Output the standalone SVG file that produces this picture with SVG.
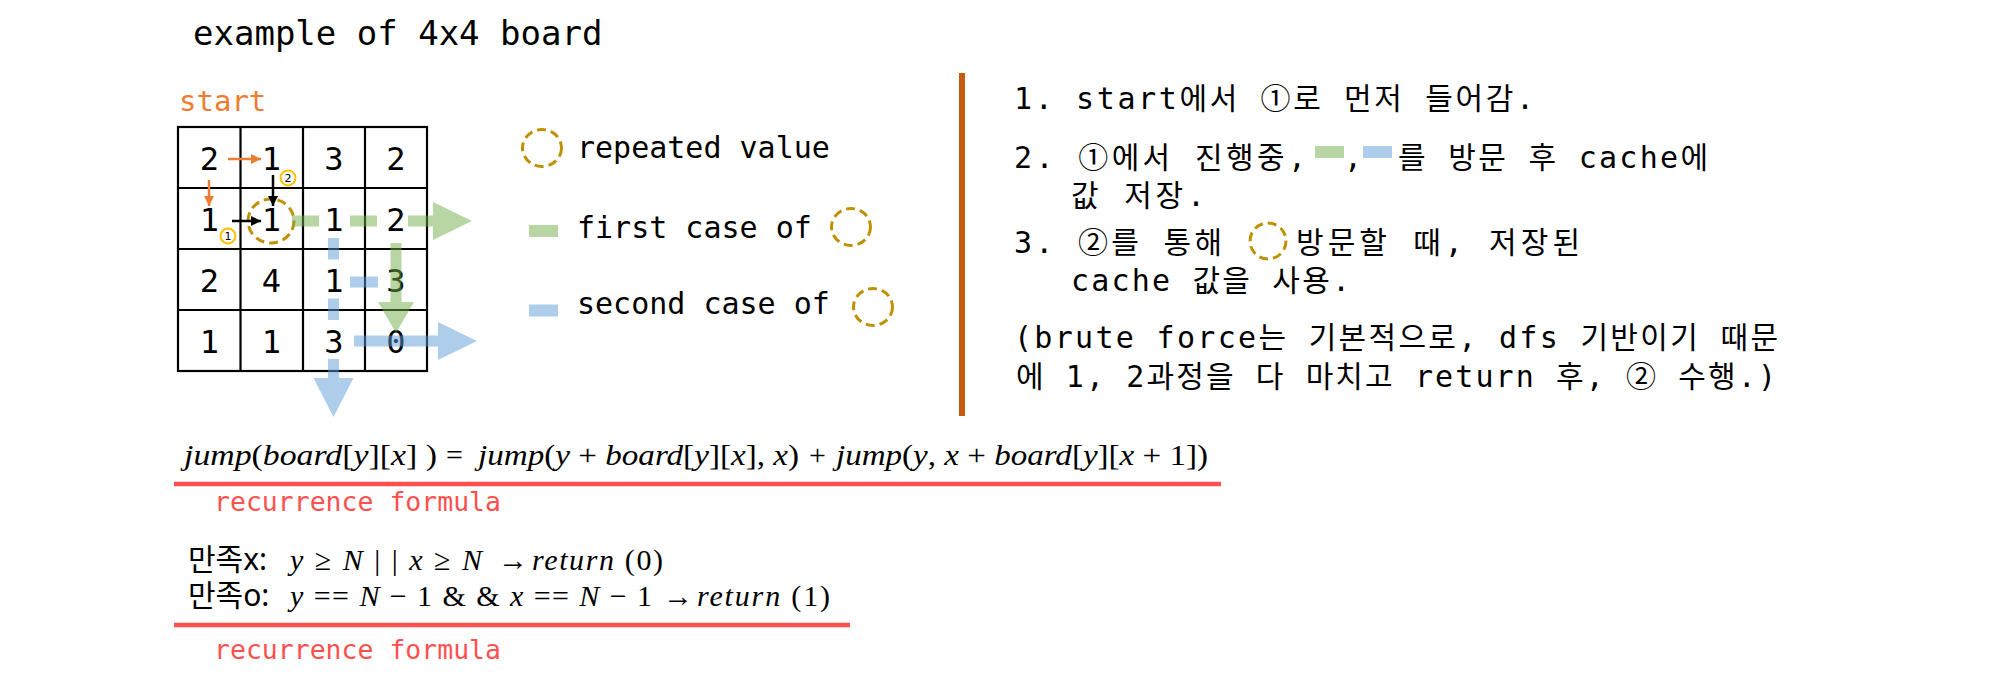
<svg xmlns="http://www.w3.org/2000/svg" width="2002" height="686" viewBox="0 0 2002 686">
<style>
.mono{font-family:"DejaVu Sans Mono","Noto Sans CJK KR",monospace;fill:#000}
.num{font-family:"DejaVu Sans Mono",monospace;font-size:32px;text-anchor:middle;fill:#000}
.leg{font-family:"DejaVu Sans Mono",monospace;font-size:30px;fill:#000}
.kr{font-family:"DejaVu Sans Mono","Noto Sans CJK KR",monospace;font-size:30px;fill:#000}
.math{font-family:"Liberation Serif","DejaVu Serif",serif;font-size:30px;fill:#000}
.i{font-style:italic}
.ks{font-family:"Noto Sans","Noto Sans CJK KR",sans-serif;font-size:30px;fill:#000}
.red{font-family:"DejaVu Sans Mono",monospace;font-size:26px;fill:#FF5050}
.dc{fill:none;stroke:#BF9000;stroke-width:3;stroke-dasharray:9 5}
.sc{fill:#fff;stroke:#FFC000;stroke-width:2}
.sn{font-family:"DejaVu Sans",sans-serif;font-size:11px;text-anchor:middle;fill:#000}
.grid{fill:none;stroke:#000;stroke-width:2.2}
.g{fill:#70AD47;fill-opacity:0.5}
.gs{stroke:#70AD47;stroke-opacity:0.5;stroke-width:11;fill:none}
.b{fill:#5B9BD5;fill-opacity:0.5}
.bs{stroke:#5B9BD5;stroke-opacity:0.5;stroke-width:11;fill:none}
.rl{stroke:#FF5050;stroke-width:4.5}
</style>
<defs>
<marker id="ho" viewBox="0 0 10 10" refX="10" refY="5" markerWidth="10" markerHeight="10" markerUnits="userSpaceOnUse" orient="auto"><path d="M0,0 L10,5 L0,10 z" fill="#ED7D31"/></marker>
<marker id="hb" viewBox="0 0 10 10" refX="10" refY="5" markerWidth="10" markerHeight="10" markerUnits="userSpaceOnUse" orient="auto"><path d="M0,0 L10,5 L0,10 z" fill="#000"/></marker>
</defs>
<rect width="2002" height="686" fill="#fff"/>

<g id="title"><text class="mono" x="193" y="45" font-size="34">example of 4x4 board</text></g>
<g id="start"><text class="mono" x="179" y="111" font-size="29" style="fill:#ED7D31">start</text></g>

<g id="board">
<rect class="grid" x="178" y="127" width="249" height="244"/>
<line class="grid" x1="240.5" y1="127" x2="240.5" y2="371"/>
<line class="grid" x1="303" y1="127" x2="303" y2="371"/>
<line class="grid" x1="365" y1="127" x2="365" y2="371"/>
<line class="grid" x1="178" y1="188" x2="427" y2="188"/>
<line class="grid" x1="178" y1="249" x2="427" y2="249"/>
<line class="grid" x1="178" y1="310" x2="427" y2="310"/>
<text class="num" x="209.5" y="170">2</text><text class="num" x="271.5" y="170">1</text><text class="num" x="334" y="170">3</text><text class="num" x="396" y="170">2</text>
<text class="num" x="209.5" y="231">1</text><text class="num" x="271.5" y="231">1</text><text class="num" x="334" y="231">1</text><text class="num" x="396" y="231">2</text>
<text class="num" x="209.5" y="292">2</text><text class="num" x="271.5" y="292">4</text><text class="num" x="334" y="292">1</text><text class="num" x="396" y="292">3</text>
<text class="num" x="209.5" y="353">1</text><text class="num" x="271.5" y="353">1</text><text class="num" x="334" y="353">3</text><text class="num" x="396" y="353">0</text>
</g>

<g id="repeated-cell"><ellipse class="dc" cx="271" cy="221" rx="23" ry="22"/></g>
<g id="mark1"><circle class="sc" cx="228" cy="236" r="7.5"/><text class="sn" x="228" y="240">1</text></g>
<g id="mark2"><circle class="sc" cx="288" cy="178" r="7.5"/><text class="sn" x="288" y="182">2</text></g>

<g id="connectors">
<line x1="228" y1="159" x2="261" y2="159" stroke="#ED7D31" stroke-width="2.5" marker-end="url(#ho)"/>
<line x1="209" y1="180" x2="209" y2="206" stroke="#ED7D31" stroke-width="2.5" marker-end="url(#ho)"/>
<line x1="273" y1="175" x2="273" y2="206" stroke="#000" stroke-width="2.5" marker-end="url(#hb)"/>
<line x1="232" y1="221" x2="261" y2="221" stroke="#000" stroke-width="2.5" marker-end="url(#hb)"/>
<line class="gs" x1="292" y1="221" x2="433" y2="221" stroke-dasharray="27 31"/>
<polygon class="g" points="433,202 472,221 433,240"/>
<line class="gs" x1="396" y1="243" x2="396" y2="302"/>
<polygon class="g" points="378,302 396,333 414,302"/>
<line class="bs" x1="333.5" y1="238" x2="333.5" y2="378" stroke-dasharray="21.5 39"/>
<polygon class="b" points="313.5,378 333.5,417 353.5,378"/>
<line class="bs" x1="350" y1="282" x2="378" y2="282"/>
<line class="bs" x1="354" y1="341" x2="438" y2="341"/>
<polygon class="b" points="438,322 477,341 438,360"/>
</g>

<g id="legend">
<ellipse class="dc" cx="542" cy="148" rx="19.5" ry="18.5"/>
<text class="leg" x="577" y="158">repeated value</text>
<rect x="529" y="225" width="29" height="12" fill="#70AD47" fill-opacity="0.5"/>
<text class="leg" x="577" y="238">first case of</text>
<ellipse class="dc" cx="851" cy="227" rx="19.5" ry="18.5"/>
<rect x="529" y="304.5" width="29" height="12" fill="#5B9BD5" fill-opacity="0.5"/>
<text class="leg" x="577" y="314">second case of</text>
<ellipse class="dc" cx="873" cy="307" rx="19.5" ry="18.5"/>
</g>

<g id="divider"><rect x="959" y="73" width="6" height="343" fill="#C55A11"/></g>

<g id="steps">
<text class="kr" x="1014" y="109" textLength="520" lengthAdjust="spacing">1. start에서 ①로 먼저 들어감.</text>
<text class="kr" x="1014" y="168" textLength="292" lengthAdjust="spacing">2. ①에서 진행중,</text>
<rect x="1315" y="146" width="29" height="12" fill="#70AD47" fill-opacity="0.5"/>
<text class="kr" x="1344" y="168">,</text>
<rect x="1363" y="146" width="29" height="12" fill="#5B9BD5" fill-opacity="0.5"/>
<text class="kr" x="1398" y="168" textLength="310" lengthAdjust="spacing">를 방문 후 cache에</text>
<text class="kr" x="1071" y="206" textLength="134" lengthAdjust="spacing">값 저장.</text>
<text class="kr" x="1014" y="253" textLength="208" lengthAdjust="spacing">3. ②를 통해</text>
<ellipse class="dc" cx="1268" cy="241" rx="18" ry="18"/>
<text class="kr" x="1296" y="253" textLength="284" lengthAdjust="spacing">방문할 때, 저장된</text>
<text class="kr" x="1071" y="291" textLength="279" lengthAdjust="spacing">cache 값을 사용.</text>
<text class="kr" x="1014" y="348" textLength="764" lengthAdjust="spacing">(brute force는 기본적으로, dfs 기반이기 때문</text>
<text class="kr" x="1016" y="387" textLength="760" lengthAdjust="spacing">에 1, 2과정을 다 마치고 return 후, ② 수행.)</text>
</g>

<g id="formula">
<text class="math" x="184" y="465" textLength="253" lengthAdjust="spacingAndGlyphs"><tspan class="i">jump</tspan>(<tspan class="i">board</tspan>[<tspan class="i">y</tspan>][<tspan class="i">x</tspan>] )</text>
<text class="math" x="446" y="465">=</text>
<text class="math" x="478" y="465" textLength="321" lengthAdjust="spacingAndGlyphs"><tspan class="i">jump</tspan>(<tspan class="i">y</tspan> + <tspan class="i">board</tspan>[<tspan class="i">y</tspan>][<tspan class="i">x</tspan>], <tspan class="i">x</tspan>)</text>
<text class="math" x="809" y="465">+</text>
<text class="math" x="836" y="465" textLength="372" lengthAdjust="spacingAndGlyphs"><tspan class="i">jump</tspan>(<tspan class="i">y</tspan>, <tspan class="i">x</tspan> + <tspan class="i">board</tspan>[<tspan class="i">y</tspan>][<tspan class="i">x</tspan> + 1])</text>
<line class="rl" x1="174" y1="484" x2="1221" y2="484"/>
<text class="red" x="214" y="511" textLength="287" lengthAdjust="spacingAndGlyphs">recurrence formula</text>
</g>

<g id="conditions">
<text class="ks" x="188" y="570">만족x:</text>
<text class="math" x="290" y="570" textLength="192" lengthAdjust="spacing"><tspan class="i">y</tspan> ≥ <tspan class="i">N</tspan> | | <tspan class="i">x</tspan> ≥ <tspan class="i">N</tspan></text>
<text class="math" x="498" y="570">→</text>
<text class="math" x="532" y="570" textLength="131" lengthAdjust="spacing"><tspan class="i">return</tspan> (0)</text>
<text class="ks" x="188" y="606">만족o:</text>
<text class="math" x="290" y="606" textLength="362" lengthAdjust="spacing"><tspan class="i">y</tspan> == <tspan class="i">N</tspan> − 1 &amp; &amp; <tspan class="i">x</tspan> == <tspan class="i">N</tspan> − 1</text>
<text class="math" x="663" y="606">→</text>
<text class="math" x="697" y="606" textLength="133" lengthAdjust="spacing"><tspan class="i">return</tspan> (1)</text>
<line class="rl" x1="174" y1="625" x2="850" y2="625"/>
<text class="red" x="214" y="659" textLength="287" lengthAdjust="spacingAndGlyphs">recurrence formula</text>
</g>
</svg>
